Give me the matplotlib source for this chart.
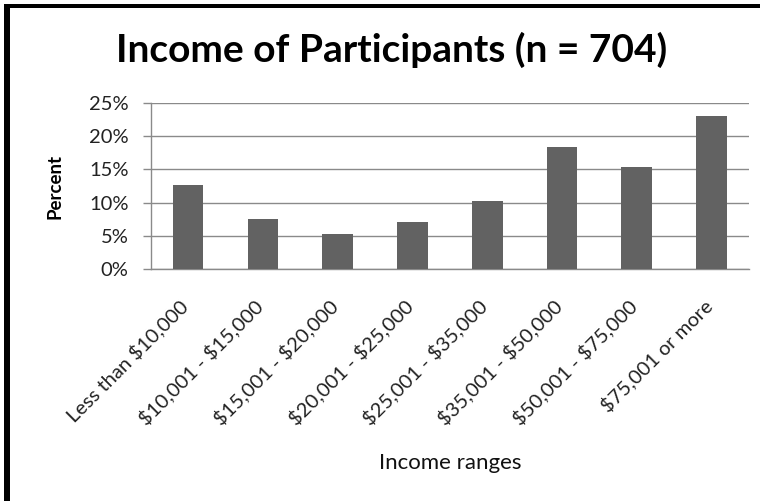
import matplotlib
matplotlib.use("Agg")
import matplotlib.pyplot as plt
import matplotlib.transforms as mtransforms
from matplotlib.patches import Rectangle
from matplotlib.ticker import PercentFormatter, MultipleLocator


# Income bracket shares (percent of 704 participants)
INCOME_RANGES = [
    'Less than $10,000', '$10,001 - $15,000', '$15,001 - $20,000',
    '$20,001 - $25,000', '$25,001 - $35,000', '$35,001 - $50,000',
    '$50,001 - $75,000', '$75,001 or more'
]
PERCENTS = [12.7, 7.5, 5.3, 7.1, 10.2, 18.3, 15.4, 23.1]

TITLE = 'Income of Participants (n = 704)'
Y_LABEL = 'Percent'
X_LABEL = 'Income ranges'

W, H = 765, 501
BAR_COLOR = '#626262'
GRID_COLOR = '#8a8a8a'

plt.rcParams['font.family'] = ['Lato', 'DejaVu Sans']
plt.rcParams['text.parse_math'] = False  # dollar signs are literal here

fig = plt.figure(figsize=(W / 100, H / 100), dpi=100)
ax = fig.add_axes([150.7 / W, 1 - 269 / H, (749 - 150.7) / W, (269 - 103) / H])

positions = range(len(INCOME_RANGES))
ax.bar(positions, PERCENTS, width=0.41, color=BAR_COLOR, zorder=3)

ax.set_xlim(-0.5, len(INCOME_RANGES) - 0.5)
ax.set_ylim(0, 25)
ax.yaxis.set_major_locator(MultipleLocator(5))
ax.yaxis.set_major_formatter(PercentFormatter(decimals=0))
ax.grid(axis='y', color=GRID_COLOR, linewidth=1.0, zorder=0)

for side in ('top', 'right'):
    ax.spines[side].set_visible(False)
for side in ('left', 'bottom'):
    ax.spines[side].set_color(GRID_COLOR)
    ax.spines[side].set_linewidth(1.0)

ax.tick_params(axis='y', length=6, width=1.0, color=GRID_COLOR, pad=10,
               labelsize=14.5, labelcolor='#222222')
ax.tick_params(axis='x', length=0, pad=20, labelsize=14.5, labelcolor='#222222')
ax.set_xticks(list(positions))
ax.set_xticklabels(INCOME_RANGES, rotation=45, ha='right')

# nudge the slanted labels a few pixels right, as in the original
shift = mtransforms.ScaledTranslation(4 / 100, 0, fig.dpi_scale_trans)
for lbl in ax.get_xticklabels():
    lbl.set_transform(lbl.get_transform() + shift)

# Titles and axis labels placed like the original Excel chart
fig.text(392 / W, 1 - 62 / H, TITLE, ha='center', va='baseline',
         fontsize=28, fontweight='bold', color='black')
fig.text(55 / W, 1 - 186 / H, Y_LABEL, ha='center', va='center', rotation=90,
         fontsize=13.5, fontweight='bold', color='black')
fig.text(450 / W, 1 - 463 / H, X_LABEL, ha='center', va='center',
         fontsize=16, color='#111111')

# Thick black frame on the left and top edges
fig.add_artist(Rectangle((4 / W, 0), 6 / W, 1 - 4 / H, transform=fig.transFigure,
                         color='black', lw=0))
fig.add_artist(Rectangle((4 / W, 1 - 8 / H), 756 / W, 4 / H, transform=fig.transFigure,
                         color='black', lw=0))

fig.savefig('out.png', dpi=100)
